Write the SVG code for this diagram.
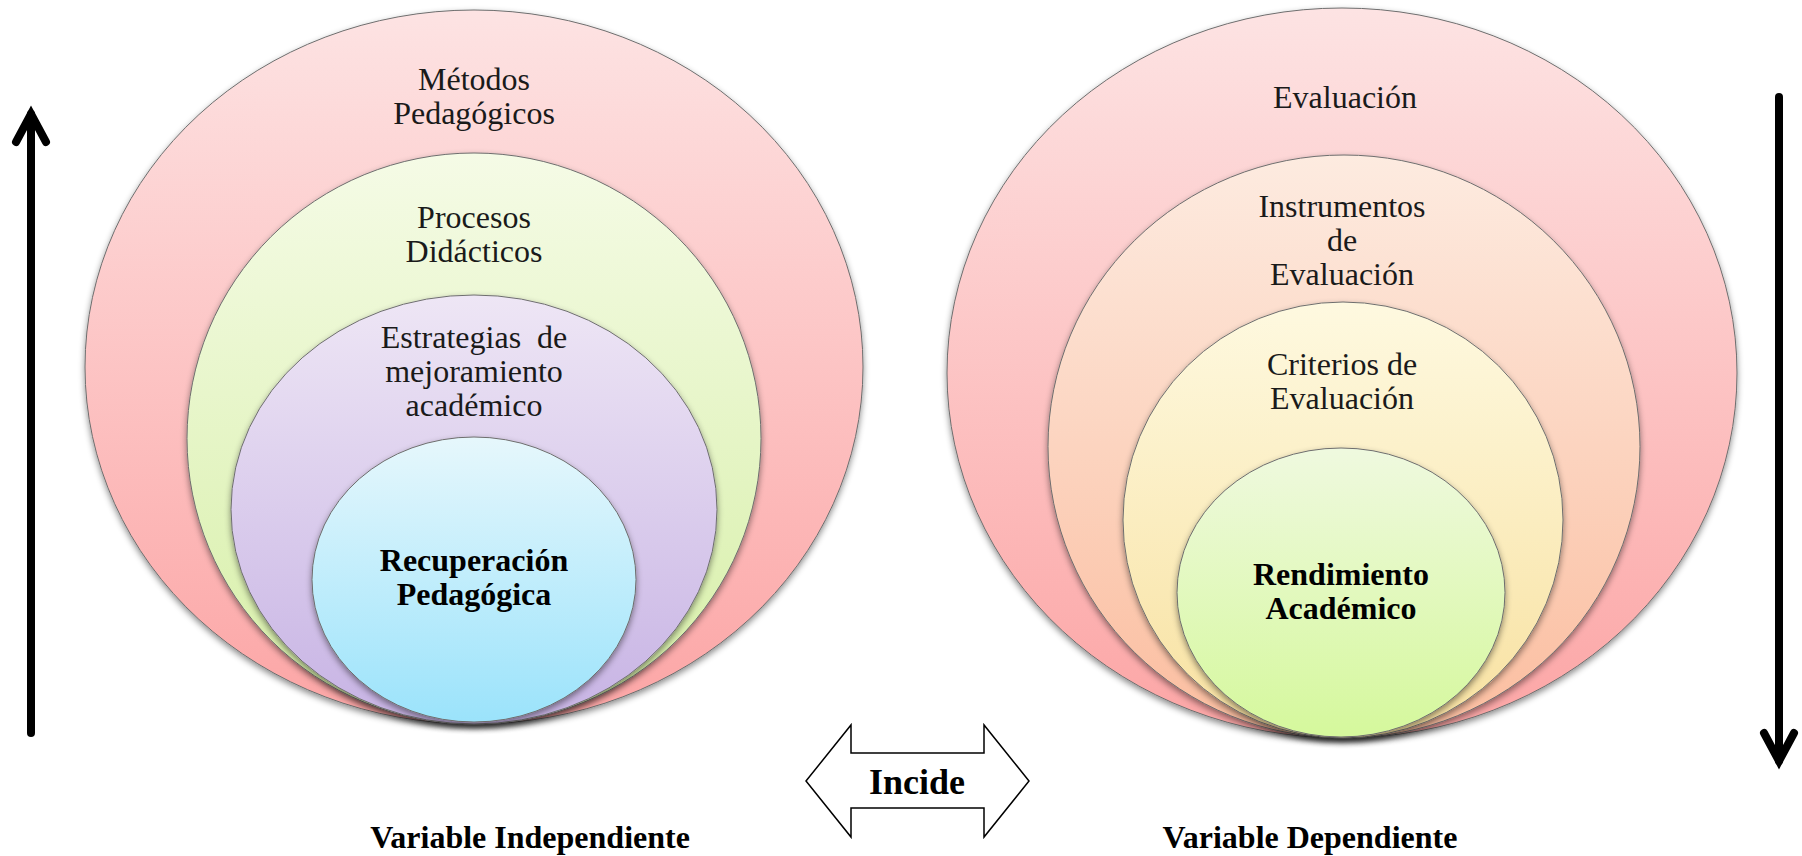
<svg xmlns="http://www.w3.org/2000/svg" width="1802" height="856" viewBox="0 0 1802 856">
<defs>
<linearGradient id="gPink" x1="0" y1="0" x2="0" y2="1"><stop offset="0" stop-color="#fde3e3"/><stop offset="1" stop-color="#fca5a5"/></linearGradient>
<linearGradient id="gGreen" x1="0" y1="0" x2="0" y2="1"><stop offset="0" stop-color="#f5fbe6"/><stop offset="1" stop-color="#d6efa6"/></linearGradient>
<linearGradient id="gPurple" x1="0" y1="0" x2="0" y2="1"><stop offset="0" stop-color="#eee6f5"/><stop offset="1" stop-color="#c7b3e4"/></linearGradient>
<linearGradient id="gBlue" x1="0" y1="0" x2="0" y2="1"><stop offset="0" stop-color="#e6f7fc"/><stop offset="1" stop-color="#9be3fb"/></linearGradient>
<linearGradient id="gPeach" x1="0" y1="0" x2="0" y2="1"><stop offset="0" stop-color="#fdebe0"/><stop offset="1" stop-color="#fbbd9f"/></linearGradient>
<linearGradient id="gYellow" x1="0" y1="0" x2="0" y2="1"><stop offset="0" stop-color="#fef9e0"/><stop offset="1" stop-color="#f8e1a0"/></linearGradient>
<linearGradient id="gLime" x1="0" y1="0" x2="0" y2="1"><stop offset="0" stop-color="#eff9df"/><stop offset="1" stop-color="#d5f89c"/></linearGradient>
<filter id="sh" x="-10%" y="-10%" width="120%" height="125%"><feDropShadow dx="0" dy="3" stdDeviation="3" flood-color="#000" flood-opacity="0.45"/></filter>
</defs>
<style>
.c{stroke:#6e6e6e;stroke-width:1;filter:url(#sh)}
.t{font-family:"Liberation Serif","Times New Roman",serif;font-size:32px;fill:#1a1a1a;text-anchor:middle}
.b{font-family:"Liberation Serif","Times New Roman",serif;font-size:32px;font-weight:bold;fill:#000;text-anchor:middle}
.v{font-family:"Liberation Serif","Times New Roman",serif;font-size:32px;font-weight:bold;fill:#000;text-anchor:middle}
.ar{fill:none;stroke:#000;stroke-width:8;stroke-linecap:round;stroke-linejoin:miter}
</style>
<rect width="1802" height="856" fill="#fff"/>
<g id="metodos"><ellipse class="c" cx="474" cy="367" rx="389" ry="357" fill="url(#gPink)"/><text class="t" x="474" y="90">Métodos</text><text class="t" x="474" y="124">Pedagógicos</text></g>
<g id="procesos"><ellipse class="c" cx="474" cy="438.5" rx="287" ry="285.5" fill="url(#gGreen)"/><text class="t" x="474" y="228">Procesos</text><text class="t" x="474" y="262">Didácticos</text></g>
<g id="estrategias"><ellipse class="c" cx="474" cy="509.5" rx="243" ry="214.5" fill="url(#gPurple)"/><text class="t" x="474" y="348" xml:space="preserve">Estrategias  de</text><text class="t" x="474" y="382">mejoramiento</text><text class="t" x="474" y="416">académico</text></g>
<g id="recuperacion"><ellipse class="c" cx="474" cy="579.5" rx="162" ry="142.5" fill="url(#gBlue)"/><text class="b" x="474" y="571">Recuperación</text><text class="b" x="474" y="605">Pedagógica</text></g>
<g id="evaluacion"><ellipse class="c" cx="1342" cy="373" rx="395" ry="365" fill="url(#gPink)"/><text class="t" x="1345" y="108">Evaluación</text></g>
<g id="instrumentos"><ellipse class="c" cx="1344" cy="446.5" rx="296" ry="291.5" fill="url(#gPeach)"/><text class="t" x="1342" y="217">Instrumentos</text><text class="t" x="1342" y="251">de</text><text class="t" x="1342" y="285">Evaluación</text></g>
<g id="criterios"><ellipse class="c" cx="1343" cy="520" rx="220" ry="218" fill="url(#gYellow)"/><text class="t" x="1342" y="375">Criterios de</text><text class="t" x="1342" y="409">Evaluación</text></g>
<g id="rendimiento"><ellipse class="c" cx="1341" cy="592.5" rx="164" ry="144.5" fill="url(#gLime)"/><text class="b" x="1341" y="585">Rendimiento</text><text class="b" x="1341" y="619">Académico</text></g>
<g id="connectors">
<path class="ar" d="M31 733 V114"/><path class="ar" d="M16 142 L31 114 L46 142"/>
<path class="ar" d="M1779 97 V761"/><path class="ar" d="M1764 733 L1779 761 L1794 733"/>
<path d="M806 781 L851 725 L851 753 L984 753 L984 725 L1029 781 L984 837 L984 808 L851 808 L851 837 Z" fill="#fff" stroke="#000" stroke-width="1.5"/>
</g>
<text x="917" y="794" font-family="Liberation Serif, serif" font-size="36" font-weight="bold" text-anchor="middle">Incide</text>
<text class="v" x="530" y="848">Variable Independiente</text>
<text class="v" x="1310" y="848">Variable Dependiente</text>
</svg>
